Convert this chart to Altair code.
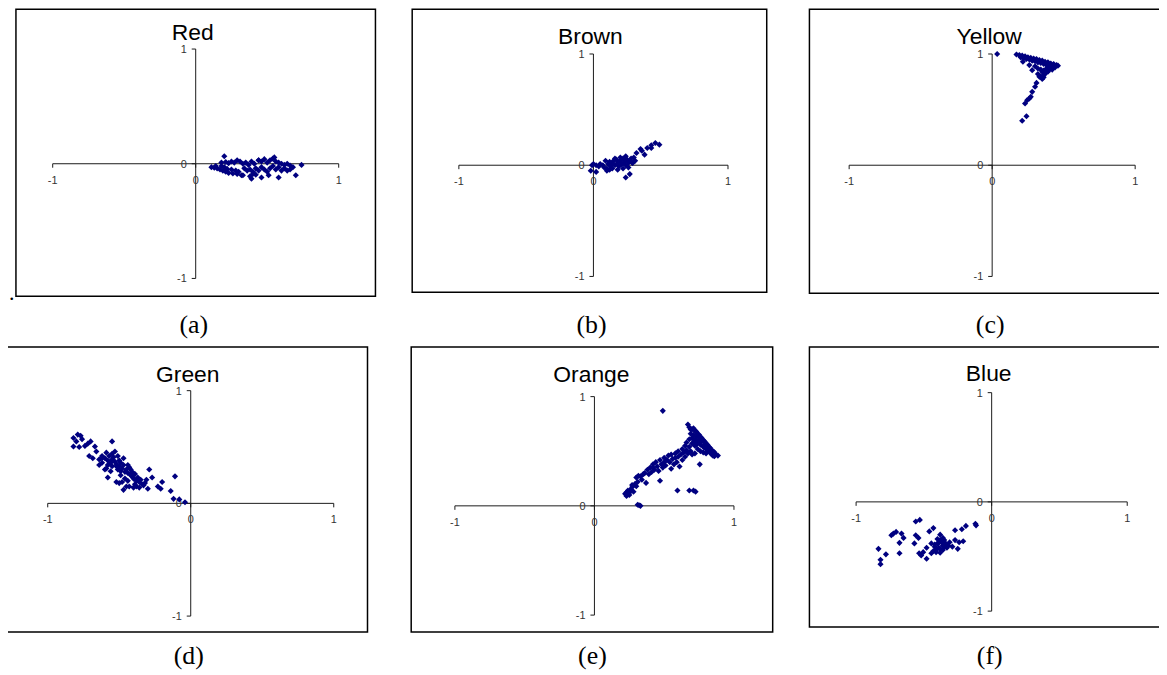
import altair as alt
import pandas as pd

# ---------------- data ----------------
PANEL_NAMES = ["Red", "Brown", "Yellow", "Green", "Orange", "Blue"]
CAPTIONS = ["(a)", "(b)", "(c)", "(d)", "(e)", "(f)"]
X_TICKS = [-1, 0, 1]
X_TICK_LABELS = ["-1", "0", "1"]
Y_TICKS = [1, 0, -1]
Y_TICK_LABELS = ["1", "0", "-1"]

red = [
    (0.11, -0.03), (0.13, -0.035), (0.15, -0.04), (0.17, -0.05), (0.19, -0.06), (0.21, -0.07),
    (0.23, -0.08), (0.14, -0.02), (0.18, -0.02), (0.20, -0.03), (0.22, -0.045), (0.25, -0.05),
    (0.28, -0.06), (0.30, -0.07), (0.26, -0.085), (0.29, -0.09), (0.32, -0.10),
    (0.20, 0.065), (0.18, 0.01), (0.21, 0.015), (0.23, 0.005), (0.25, 0.02), (0.27, 0.01),
    (0.29, 0.03), (0.31, 0.02), (0.33, 0.00), (0.35, 0.01), (0.37, -0.01), (0.39, 0.02),
    (0.41, 0.00), (0.44, 0.03), (0.46, 0.02), (0.48, 0.04), (0.50, 0.01), (0.52, 0.03),
    (0.54, 0.045), (0.56, 0.02), (0.58, 0.01), (0.60, 0.00), (0.62, -0.01), (0.64, 0.00),
    (0.66, -0.015), (0.34, -0.04), (0.36, -0.06), (0.38, -0.05), (0.40, -0.07), (0.42, -0.04),
    (0.44, -0.06), (0.46, -0.03), (0.48, -0.05), (0.50, -0.07), (0.52, -0.04), (0.54, -0.02),
    (0.56, -0.05), (0.58, -0.03), (0.60, -0.06), (0.62, -0.04), (0.64, -0.06), (0.66, -0.05),
    (0.68, -0.03), (0.74, -0.01), (0.70, -0.10), (0.58, -0.12), (0.39, -0.13), (0.38, -0.11),
    (0.42, -0.095), (0.46, -0.12), (0.51, -0.10), (0.55, 0.055), (0.44, 0.03), (0.33, -0.10),
    (0.40, -0.09),
]

brown = [
    (-0.02, -0.05), (0.02, -0.06), (-0.01, 0.00), (0.00, 0.01), (0.02, 0.00), (0.04, -0.01),
    (0.05, 0.01), (0.07, 0.00), (0.09, 0.04), (0.08, -0.02), (0.10, -0.03), (0.11, 0.01),
    (0.12, 0.03), (0.13, -0.01), (0.14, 0.02), (0.15, 0.04), (0.16, 0.00), (0.17, 0.05),
    (0.18, 0.02), (0.19, -0.01), (0.20, 0.04), (0.21, 0.01), (0.22, 0.06), (0.23, 0.03),
    (0.24, 0.00), (0.25, 0.05), (0.26, 0.02), (0.27, 0.04), (0.28, 0.06), (0.29, 0.02),
    (0.30, 0.07), (0.31, 0.04), (0.12, -0.04), (0.10, -0.05), (0.14, -0.03), (0.18, -0.04),
    (0.22, -0.03), (0.26, -0.02), (0.20, 0.07), (0.16, 0.06), (0.24, 0.08),
    (0.32, 0.11), (0.35, 0.145), (0.38, 0.095), (0.40, 0.155), (0.43, 0.155), (0.43, 0.18),
    (0.46, 0.20), (0.49, 0.185), (0.36, 0.13), (0.24, -0.11), (0.27, -0.08), (0.29, 0.02),
]

yellow = [
    (0.035, 1.00),
    (0.17, 0.995), (0.19, 0.99), (0.21, 0.985), (0.23, 0.98), (0.25, 0.97), (0.27, 0.965),
    (0.29, 0.96), (0.31, 0.955), (0.33, 0.945), (0.35, 0.94), (0.37, 0.93), (0.39, 0.925),
    (0.41, 0.915), (0.43, 0.91), (0.45, 0.90), (0.46, 0.895),
    (0.20, 0.97), (0.22, 0.96), (0.24, 0.955), (0.26, 0.95), (0.28, 0.94), (0.30, 0.935),
    (0.32, 0.925), (0.34, 0.92), (0.36, 0.91), (0.38, 0.90), (0.40, 0.89), (0.42, 0.885),
    (0.44, 0.88),
    (0.215, 0.93), (0.26, 0.90), (0.28, 0.855), (0.30, 0.89), (0.32, 0.87), (0.34, 0.86),
    (0.36, 0.85), (0.38, 0.87), (0.40, 0.86), (0.42, 0.86), (0.375, 0.83), (0.35, 0.84),
    (0.32, 0.82), (0.33, 0.795), (0.35, 0.775), (0.365, 0.815), (0.39, 0.84), (0.34, 0.80),
    (0.36, 0.79),
    (0.31, 0.74), (0.30, 0.705), (0.28, 0.66), (0.27, 0.615), (0.26, 0.60), (0.245, 0.585),
    (0.23, 0.555), (0.24, 0.44), (0.21, 0.40),
]

green = [
    (-0.79, 0.61), (-0.82, 0.58), (-0.82, 0.505), (-0.78, 0.50), (-0.74, 0.51), (-0.70, 0.55),
    (-0.67, 0.505), (-0.71, 0.42), (-0.685, 0.40), (-0.64, 0.39), (-0.55, 0.55), (-0.59, 0.45),
    (-0.58, 0.23), (-0.55, 0.39), (-0.51, 0.42), (-0.47, 0.40), (-0.62, 0.36), (-0.59, 0.31),
    (-0.56, 0.285), (-0.52, 0.33), (-0.49, 0.285), (-0.44, 0.34), (-0.42, 0.30), (-0.50, 0.18),
    (-0.47, 0.12), (-0.41, 0.24), (-0.38, 0.15), (-0.36, 0.14), (-0.31, 0.21), (-0.29, 0.30),
    (-0.30, 0.13), (-0.27, 0.23), (-0.23, 0.15), (-0.20, 0.19), (-0.21, 0.13), (-0.14, 0.11),
    (-0.11, 0.24), (-0.12, 0.04), (-0.08, 0.035), (-0.04, 0.01), (-0.34, 0.17), (-0.43, 0.15),
    (-0.52, 0.19), (-0.64, 0.34), (-0.62, 0.40),
    (-0.60, 0.40), (-0.58, 0.38), (-0.57, 0.42), (-0.56, 0.36), (-0.55, 0.33), (-0.54, 0.41),
    (-0.53, 0.37), (-0.52, 0.35), (-0.51, 0.30), (-0.50, 0.38), (-0.50, 0.33), (-0.49, 0.36),
    (-0.48, 0.31), (-0.47, 0.34), (-0.46, 0.28), (-0.45, 0.30), (-0.44, 0.27), (-0.43, 0.32),
    (-0.42, 0.25), (-0.41, 0.28), (-0.40, 0.22), (-0.39, 0.26), (-0.38, 0.20), (-0.37, 0.23),
    (-0.36, 0.19), (-0.35, 0.21), (-0.33, 0.16), (-0.32, 0.18), (-0.55, 0.44), (-0.53, 0.46),
    (-0.49, 0.25), (-0.46, 0.22), (-0.44, 0.20), (-0.60, 0.30), (-0.62, 0.42), (-0.58, 0.34),
    (-0.48, 0.19), (-0.45, 0.15), (-0.40, 0.14), (-0.39, 0.17), (-0.66, 0.46), (-0.72, 0.53),
    (-0.76, 0.57), (-0.80, 0.55), (-0.77, 0.60),
]

orange = [
    (0.22, 0.11), (0.23, 0.125), (0.24, 0.14), (0.23, 0.09), (0.25, 0.12), (0.26, 0.15),
    (0.27, 0.17), (0.25, 0.10), (0.28, 0.13), (0.27, 0.19), (0.29, 0.20), (0.30, 0.18),
    (0.31, 0.22), (0.30, 0.26), (0.315, 0.275), (0.33, 0.27), (0.34, 0.24), (0.35, 0.29),
    (0.37, 0.21), (0.36, 0.30), (0.38, 0.33), (0.39, 0.29), (0.40, 0.35), (0.41, 0.31),
    (0.42, 0.35), (0.42, 0.38), (0.43, 0.33), (0.44, 0.40), (0.45, 0.36), (0.46, 0.32),
    (0.47, 0.23), (0.47, 0.42), (0.48, 0.38), (0.49, 0.35), (0.50, 0.44), (0.50, 0.40),
    (0.51, 0.37), (0.52, 0.42), (0.53, 0.46), (0.54, 0.40), (0.55, 0.47), (0.55, 0.34),
    (0.56, 0.43), (0.57, 0.38), (0.58, 0.48), (0.58, 0.44), (0.59, 0.40), (0.60, 0.50),
    (0.60, 0.45), (0.61, 0.36), (0.62, 0.47), (0.63, 0.52), (0.63, 0.42), (0.64, 0.49),
    (0.65, 0.55), (0.65, 0.45), (0.66, 0.51), (0.66, 0.58), (0.67, 0.48), (0.68, 0.54),
    (0.68, 0.61), (0.69, 0.50), (0.69, 0.66), (0.70, 0.57), (0.70, 0.70), (0.67, 0.745),
    (0.68, 0.72), (0.69, 0.70), (0.70, 0.62),
    (0.71, 0.71), (0.72, 0.69), (0.73, 0.68), (0.74, 0.66), (0.75, 0.65), (0.76, 0.63),
    (0.77, 0.62), (0.78, 0.60), (0.79, 0.59), (0.80, 0.57), (0.81, 0.56), (0.82, 0.54),
    (0.83, 0.53), (0.84, 0.51), (0.85, 0.50), (0.86, 0.49), (0.87, 0.47), (0.885, 0.46),
    (0.71, 0.65), (0.72, 0.60), (0.73, 0.63), (0.74, 0.58), (0.75, 0.61), (0.76, 0.56),
    (0.77, 0.59), (0.78, 0.54), (0.79, 0.56), (0.80, 0.52), (0.81, 0.53), (0.82, 0.50),
    (0.83, 0.49), (0.84, 0.47), (0.85, 0.46), (0.86, 0.455), (0.72, 0.55), (0.74, 0.52),
    (0.76, 0.50), (0.78, 0.49), (0.80, 0.48), (0.71, 0.58), (0.73, 0.56), (0.755, 0.38),
    (0.70, 0.47), (0.72, 0.48),
    (0.49, 0.87), (0.595, 0.14), (0.68, 0.14), (0.725, 0.13), (0.71, 0.14), (0.31, 0.01),
    (0.33, 0.00), (0.32, 0.005),
]

blue = [
    (-0.56, -0.18), (-0.53, -0.165), (-0.725, -0.29), (-0.705, -0.275), (-0.74, -0.305),
    (-0.665, -0.29), (-0.65, -0.33), (-0.835, -0.43), (-0.78, -0.48), (-0.82, -0.53),
    (-0.82, -0.57), (-0.68, -0.47), (-0.68, -0.375), (-0.56, -0.305), (-0.54, -0.33),
    (-0.57, -0.38), (-0.46, -0.27), (-0.43, -0.24), (-0.38, -0.30), (-0.535, -0.47),
    (-0.52, -0.49), (-0.48, -0.52), (-0.445, -0.47), (-0.42, -0.41), (-0.395, -0.38),
    (-0.41, -0.46), (-0.38, -0.43), (-0.36, -0.40), (-0.35, -0.35), (-0.32, -0.40),
    (-0.29, -0.41), (-0.27, -0.35), (-0.24, -0.37), (-0.21, -0.36), (-0.27, -0.26),
    (-0.22, -0.25), (-0.19, -0.22), (-0.12, -0.20), (-0.115, -0.215), (-0.25, -0.43),
    (-0.445, -0.38), (-0.48, -0.42), (-0.505, -0.46), (-0.38, -0.465),
    (-0.40, -0.38), (-0.37, -0.37), (-0.39, -0.42), (-0.36, -0.44), (-0.34, -0.38),
    (-0.33, -0.42), (-0.41, -0.44), (-0.42, -0.39), (-0.35, -0.41), (-0.38, -0.35),
    (-0.31, -0.37), (-0.43, -0.45), (-0.36, -0.33), (-0.40, -0.34),
]

SERIES = [red, brown, yellow, green, orange, blue]

# ---------------- layout (page pixels) ----------------
OFF = 8  # page margin
LAYOUT = [
    dict(L=16, R=378, T=7, B=296, xm=53, xp=341, yp=47, ym=278, tb=38, cb=333),
    dict(L=415, R=772, T=7, B=292, xm=462, xp=733, yp=52, ym=276, tb=42, cb=333),
    dict(L=815, R=1200, T=7, B=293, xm=855, xp=1143, yp=52, ym=276, tb=42, cb=333),
    dict(L=7, R=370, T=347, B=634, xm=48, xp=336, yp=391, ym=618, tb=382, cb=666),
    dict(L=414, R=778, T=347, B=634, xm=458, xp=739, yp=397, ym=617, tb=382, cb=666),
    dict(L=815, R=1200, T=347, B=629, xm=862, xp=1135, yp=393, ym=613, tb=381, cb=666),
]

NAVY = "#000080"
SANS = "Liberation Sans"
SERIF = "Liberation Serif"


def panel(name, caption, pts, g, extra_dot=False):
    W = g["xp"] - g["xm"]
    H = g["ym"] - g["yp"]

    def dx(px):
        return -1 + (px - g["xm"]) * 2.0 / W

    def dy(py):
        return -1 + (g["ym"] - py) * 2.0 / H

    xs = alt.Scale(domain=[-1, 1], range=[g["xm"] - OFF, g["xp"] - OFF], nice=False, zero=False)
    ys = alt.Scale(domain=[-1, 1], range=[g["ym"] - OFF, g["yp"] - OFF], nice=False, zero=False)

    def enc(**extra):
        e = dict(
            x=alt.X("x:Q", scale=xs, axis=None),
            y=alt.Y("y:Q", scale=ys, axis=None),
        )
        e.update(extra)
        return e

    layers = []
    # frame
    frame = pd.DataFrame({"x": [dx(g["L"])], "x2": [dx(g["R"])], "y": [dy(g["B"])], "y2": [dy(g["T"])]})
    layers.append(
        alt.Chart(frame).mark_rect(fillOpacity=0, stroke="black", strokeWidth=1.5)
        .encode(**enc(x2="x2:Q", y2="y2:Q"))
    )
    # axis lines + ticks
    tx = 4 * 2.0 / W
    ty = 4 * 2.0 / H
    rows = [(-1, 0, 1, 0), (0, -1, 0, 1)]
    rows += [(v, 0, v, -ty) for v in X_TICKS]
    rows += [(-tx, v, 0, v) for v in Y_TICKS]
    rules = pd.DataFrame(rows, columns=["x", "y", "x2", "y2"])
    layers.append(
        alt.Chart(rules).mark_rule(color="#1a1a1a", strokeWidth=1)
        .encode(**enc(x2="x2:Q", y2="y2:Q"))
    )
    # x tick labels
    xl = pd.DataFrame({"x": X_TICKS, "y": [0, 0, 0], "t": X_TICK_LABELS})
    layers.append(
        alt.Chart(xl).mark_text(font=SANS, fontSize=11, color="#333333", dy=17, baseline="middle")
        .encode(**enc(text="t:N"))
    )
    # y tick labels
    yl = pd.DataFrame({"x": [0, 0, 0], "y": Y_TICKS, "t": Y_TICK_LABELS})
    layers.append(
        alt.Chart(yl).mark_text(font=SANS, fontSize=11, color="#333333", dx=-9, dy=1, align="right", baseline="middle")
        .encode(**enc(text="t:N"))
    )
    # title
    tt = pd.DataFrame({"x": [dx(g["xm"] + W / 2.0 - 3)], "y": [dy(g["tb"])], "t": [name]})
    layers.append(
        alt.Chart(tt).mark_text(font=SANS, fontSize=23, color="black", baseline="alphabetic")
        .encode(**enc(text="t:N"))
    )
    # caption
    cc = pd.DataFrame({"x": [dx(g["xm"] + W / 2.0 - 2)], "y": [dy(g["cb"])], "t": [caption]})
    layers.append(
        alt.Chart(cc).mark_text(font=SERIF, fontSize=26, color="black", baseline="alphabetic")
        .encode(**enc(text="t:N"))
    )
    if extra_dot:
        dd = pd.DataFrame({"x": [dx(9)], "y": [dy(300)], "t": ["."]})
        layers.append(
            alt.Chart(dd).mark_text(font=SERIF, fontSize=22, color="black", align="left", baseline="alphabetic")
            .encode(**enc(text="t:N"))
        )
    # points
    df = pd.DataFrame(pts, columns=["x", "y"])
    layers.append(
        alt.Chart(df).mark_point(shape="diamond", filled=True, size=38, color=NAVY, opacity=1)
        .encode(**enc())
    )
    return layers


all_layers = []
for i, name in enumerate(PANEL_NAMES):
    all_layers += panel(name, CAPTIONS[i], SERIES[i], LAYOUT[i], extra_dot=(i == 0))

chart = (
    alt.layer(*all_layers)
    .resolve_scale(x="independent", y="independent")
    .properties(width=1159, height=667, padding=0, autosize=alt.AutoSizeParams(type="none"),
                background="white")
    .configure_view(stroke="transparent")
)

chart.save("out.html", embed_options={"renderer": "svg", "actions": False})
